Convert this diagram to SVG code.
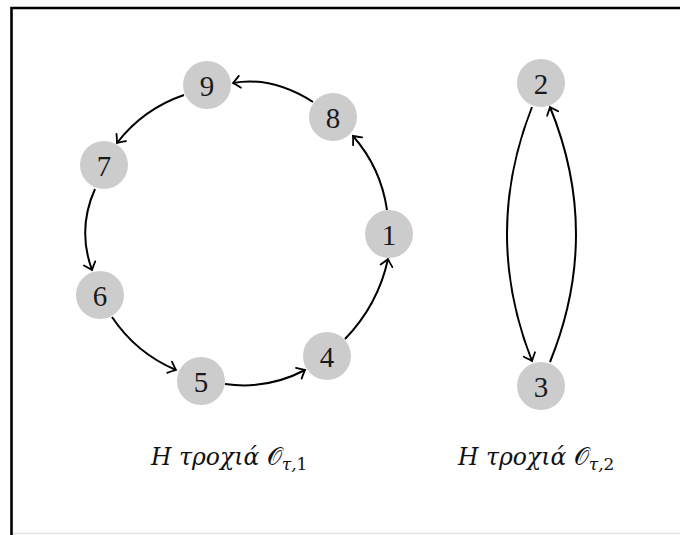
<svg xmlns="http://www.w3.org/2000/svg" width="680" height="535" viewBox="0 0 680 535">
  <style>
    .node circle { fill: #cccccc; }
    .node text { font-family: "Liberation Serif", "DejaVu Serif", serif; font-size: 29px; fill: #1a1a1a; text-anchor: middle; dominant-baseline: central; }
    .edge { fill: none; stroke: #000; stroke-width: 2; marker-end: url(#tip); }
    .caption { font-family: "DejaVu Serif", "Liberation Serif", serif; font-size: 23.5px; font-style: italic; fill: #111; }
    .caption .sub { font-size: 17px; }
    .caption .up { font-style: normal; }
  </style>
  <defs>
    <marker id="tip" markerUnits="userSpaceOnUse" viewBox="-10 -8 12 16" markerWidth="12" markerHeight="16" refX="0" refY="0" orient="auto">
      <path d="M -7 -6 Q -2 -1.5 0 0 Q -2 1.5 -7 6" fill="none" stroke="#000" stroke-width="1.8" stroke-linecap="round"/>
    </marker>
  </defs>

  <rect width="680" height="535" fill="#ffffff"/>
  <!-- page frame -->
  <path d="M 11.5 535 V 8 H 680" fill="none" stroke="#000" stroke-width="2.6"/>
  <line x1="13" y1="533.5" x2="680" y2="533.5" stroke="#e2e2e2" stroke-width="1.5"/>

  <g id="connectors">
    <!-- orbit 1: 1 -> 8 -> 9 -> 7 -> 6 -> 5 -> 4 -> 1 -->
    <path class="edge" d="M 387 210 Q 381 168 353 136"/>
    <path class="edge" d="M 313 102 Q 272 76 233 83"/>
    <path class="edge" d="M 184 95 Q 143 109 117 143"/>
    <path class="edge" d="M 95 189 Q 77 229 92 270"/>
    <path class="edge" d="M 112 317 Q 136 353 176 370"/>
    <path class="edge" d="M 225 384 Q 267 390 305 370"/>
    <path class="edge" d="M 345 339 Q 378 305 388 259"/>
    <!-- orbit 2: 2 <-> 3 -->
    <path class="edge" d="M 532 107 Q 482 234 532 361"/>
    <path class="edge" d="M 550 362 Q 602 234 550 107"/>
  </g>

  <g id="node-1" class="node"><circle cx="389" cy="234" r="24"/><text x="389" y="235">1</text></g>
  <g id="node-2" class="node"><circle cx="541" cy="83" r="24"/><text x="541" y="84">2</text></g>
  <g id="node-3" class="node"><circle cx="541" cy="386" r="24"/><text x="541" y="387">3</text></g>
  <g id="node-4" class="node"><circle cx="327" cy="356" r="24"/><text x="327" y="357">4</text></g>
  <g id="node-5" class="node"><circle cx="201" cy="381" r="24"/><text x="201" y="382">5</text></g>
  <g id="node-6" class="node"><circle cx="100" cy="295" r="24"/><text x="100" y="296">6</text></g>
  <g id="node-7" class="node"><circle cx="104" cy="165" r="24"/><text x="104" y="166">7</text></g>
  <g id="node-8" class="node"><circle cx="333" cy="117" r="24"/><text x="333" y="118">8</text></g>
  <g id="node-9" class="node"><circle cx="207" cy="85" r="24"/><text x="207" y="86">9</text></g>

  <g id="caption-1">
    <text class="caption" x="151" y="465">Η τροχιά <tspan class="up" font-family="'DejaVu Sans', 'Noto Sans', serif">𝒪</tspan><tspan class="sub" dy="5">τ,<tspan class="up">1</tspan></tspan></text>
  </g>
  <g id="caption-2">
    <text class="caption" x="458" y="465">Η τροχιά <tspan class="up" font-family="'DejaVu Sans', 'Noto Sans', serif">𝒪</tspan><tspan class="sub" dy="5">τ,<tspan class="up">2</tspan></tspan></text>
  </g>
</svg>
